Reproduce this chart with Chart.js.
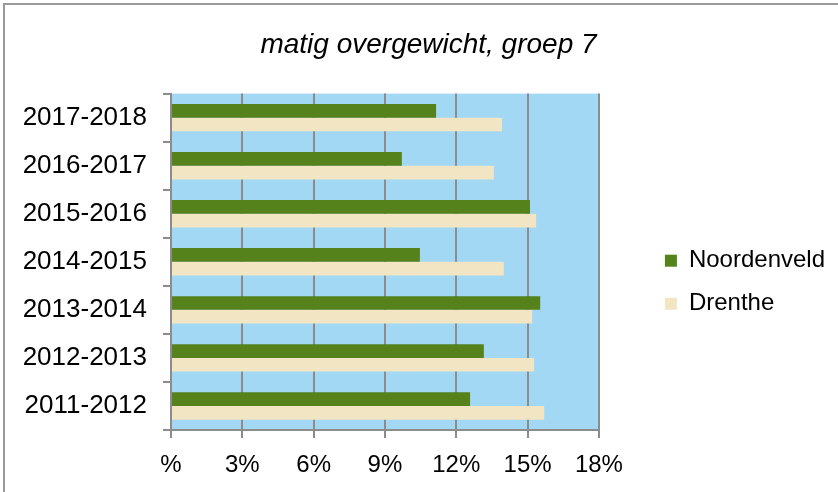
<!DOCTYPE html>
<html>
<head>
<meta charset="utf-8">
<script src="https://cdn.jsdelivr.net/npm/chart.js@4"></script>
<style>
  body { margin: 0; background: #fff; }
  #wrap { width: 838px; height: 492px; }
</style>
</head>
<body>
<div id="wrap"><canvas id="chart" width="838" height="492"></canvas></div>
<script>
const schooljaren = ['2017-2018', '2016-2017', '2015-2016', '2014-2015', '2013-2014', '2012-2013', '2011-2012'];
const noordenveld = [11.15, 9.71, 15.10, 10.47, 15.53, 13.16, 12.58];
const drenthe = [13.92, 13.58, 15.36, 14.00, 15.19, 15.27, 15.70];
const xTickLabels = ['%', '3%', '6%', '9%', '12%', '15%', '18%'];

const grijs = '#8c8c8c';

// lichtblauwe achtergrond van het plotvlak + rand van de afbeelding
const achtergrond = {
  id: 'achtergrond',
  beforeDraw(chart) {
    const { ctx, chartArea: a } = chart;
    ctx.save();
    ctx.fillStyle = '#a3d8f5';
    ctx.fillRect(a.left, a.top, a.right - a.left, a.bottom - a.top);
    ctx.strokeStyle = '#9a9a9a';
    ctx.lineWidth = 2;
    ctx.beginPath();
    ctx.moveTo(4, chart.height);
    ctx.lineTo(4, 4);
    ctx.lineTo(chart.width, 4);
    ctx.stroke();
    ctx.restore();
  }
};

const tekenGrafiek = () => {
  const ctx = document.getElementById('chart').getContext('2d');

  new Chart(ctx, {
    type: 'bar',
    data: {
      labels: schooljaren,
      datasets: [
        { label: 'Noordenveld', data: noordenveld, backgroundColor: '#55821a' },
        { label: 'Drenthe', data: drenthe, backgroundColor: '#f2e5c4' }
      ]
    },
    options: {
      indexAxis: 'y',
      responsive: false,
      animation: false,
      barPercentage: 1,
      categoryPercentage: 0.57,
      layout: { padding: { left: 22, right: 3, top: 0, bottom: 0 } },
      scales: {
        x: {
          min: 0,
          max: 18,
          ticks: {
            stepSize: 3,
            color: '#000',
            padding: 15,
            font: { family: 'Liberation Sans', size: 24, lineHeight: 1 },
            callback: (v, i) => xTickLabels[i]
          },
          grid: { color: grijs, lineWidth: 2, tickLength: 8 },
          border: { color: grijs, width: 2 }
        },
        y: {
          ticks: {
            color: '#000',
            padding: 16,
            font: { family: 'Liberation Sans', size: 26 }
          },
          grid: { drawOnChartArea: false, color: grijs, lineWidth: 2, tickLength: 8 },
          border: { color: grijs, width: 2 },
          afterFit: (scale) => { scale.width = 149; }
        },
        // onzichtbare as rechts: ruimte tussen plotvlak en legenda
        y2: {
          type: 'category',
          position: 'right',
          display: false,
          afterFit: (scale) => { scale.width = 47; }
        }
      },
      plugins: {
        title: {
          display: true,
          text: 'matig overgewicht, groep 7',
          color: '#000',
          font: { family: 'Liberation Sans', size: 28, style: 'italic', weight: 'normal' },
          padding: { top: 28, bottom: 32 }
        },
        legend: {
          display: true,
          position: 'right',
          title: { display: true, text: '', padding: 29 },
          labels: {
            color: '#000',
            boxWidth: 12,
            boxHeight: 12,
            padding: 19,
            font: { family: 'Liberation Sans', size: 24 }
          }
        },
        tooltip: { enabled: false }
      }
    },
    plugins: [achtergrond]
  });
};

Promise.all([
  document.fonts.load('24px "Liberation Sans"'),
  document.fonts.load('italic 28px "Liberation Sans"')
]).then(tekenGrafiek, tekenGrafiek);
</script>
</body>
</html>
